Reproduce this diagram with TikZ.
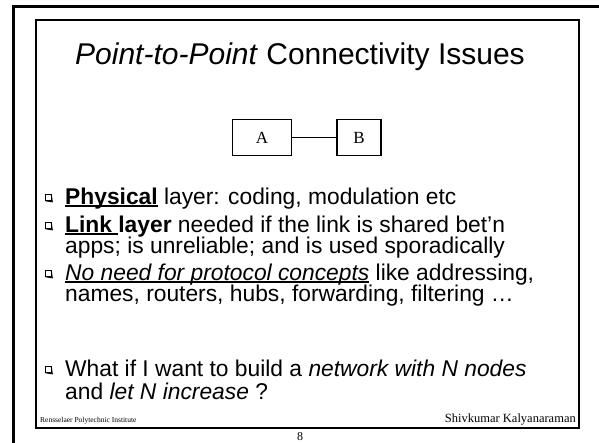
\documentclass[tikz,border=0pt]{standalone}
\usepackage{fontspec}
\setmainfont{Liberation Sans}
\newfontfamily\serifface{Liberation Serif}
% thick underline drawn under a piece of text
\newcommand\thickul[1]{\setbox0\hbox{#1}\rlap{\rule[-2.8pt]{\wd0}{1.8pt}}\box0\relax}
\begin{document}
\begin{tikzpicture}[x=1pt,y=-1pt,
  bodytext/.style={anchor=base west, inner sep=0pt, font=\fontsize{22.8}{26}\selectfont},
  nodebox/.style={draw, line width=1.3pt, minimum width=44pt, minimum height=36pt,
    inner sep=0pt, font=\serifface\fontsize{17}{20}\selectfont},
  bulletmark/.style={draw, line width=0.7pt, minimum size=6pt, inner sep=0pt}]
  \useasboundingbox (0,0) rectangle (599,442);
  % outer and inner slide frames
  \draw[line width=2.4pt] (13.5,446) -- (13.5,6.5) -- (603,6.5);
  \draw[line width=1.5pt] (36,20) rectangle (579,428);
  % title
  \node[anchor=base, inner sep=0pt, font=\fontsize{30}{36}\selectfont] (title) at (300,64)
    {\textit{Point-to-Point} Connectivity Issues};
  % two end points joined by a link
  \node[nodebox, minimum width=59pt] (A) at (262,137.5) {A};
  \node[nodebox] (B) at (359,137.5) {B};
  \draw[line width=1.3pt] (A) -- (B);
  % bullets: small boxes with a drop shadow
  \foreach \n/\y in {b1/197.5, b2/225.5, b3/273.5, b4/369.5} {
    \node[bulletmark] (\n) at (48,\y) {};
    \draw[line width=0.9pt] ([xshift=1pt]\n.south west) -- ([xshift=1pt,yshift=-1pt]\n.south east)
      -- ([yshift=-1pt]\n.north east);
  }
  \node[bodytext] (l1) at (65,204) {\textbf{\thickul{Physical}} layer: coding, modulation etc};
  \node[bodytext] (l2) at (65,232) {\textbf{\thickul{Link }layer} needed if the link is shared bet’n};
  \node[bodytext] (l3) at (65,253) {apps; is unreliable; and is used sporadically};
  \node[bodytext] (l4) at (65,280) {\thickul{\textit{No need for protocol concepts}} like addressing,};
  \node[bodytext] (l5) at (65,301) {names, routers, hubs, forwarding, filtering …};
  \node[bodytext] (l6) at (65,376) {What if I want to build a \textit{network with N nodes}};
  \node[bodytext] (l7) at (65,399) {and \textit{let N increase} ?};
  % footer
  \node[anchor=base west, inner sep=0pt, font=\serifface\fontsize{7.5}{9}\selectfont] (inst) at (40,422)
    {Rensselaer Polytechnic Institute};
  \node[anchor=base east, inner sep=0pt, font=\serifface\fontsize{12.5}{15}\selectfont] (author) at (576,422)
    {Shivkumar Kalyanaraman};
  \node[anchor=base, inner sep=0pt, font=\serifface\fontsize{12}{14}\selectfont] (page) at (300,440.5) {8};
\end{tikzpicture}
\end{document}
